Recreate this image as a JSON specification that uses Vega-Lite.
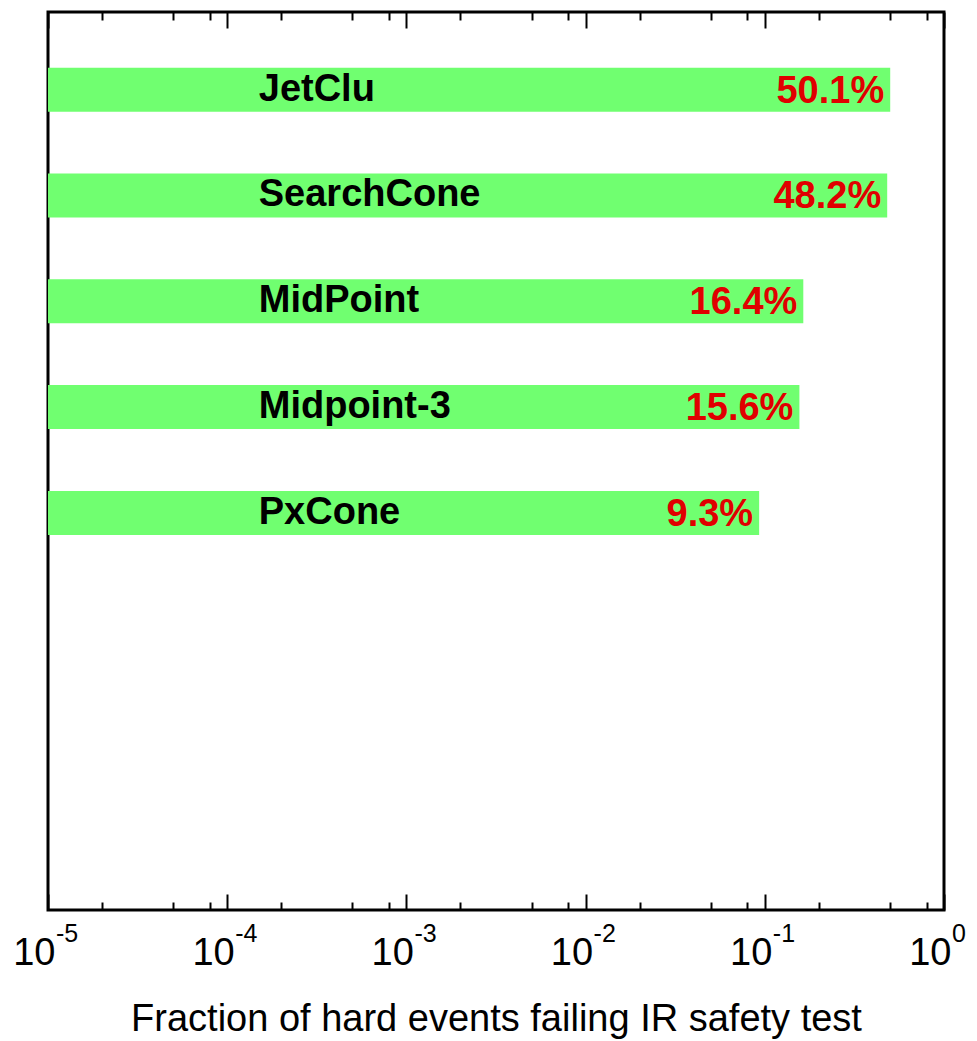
{
  "$schema": "https://vega.github.io/schema/vega-lite/v6.json",
  "width": 896,
  "height": 898,
  "autosize": {"type": "none"},
  "padding": {"left": 48, "top": 12, "right": 33, "bottom": 131},
  "background": "white",
  "config": {
    "view": {"stroke": "black", "strokeWidth": 3},
    "font": "Liberation Sans"
  },
  "datasets": {
    "algs": [
      {"name": "JetClu", "rank": 1, "fraction": 0.501, "label": "50.1%"},
      {"name": "SearchCone", "rank": 2, "fraction": 0.482, "label": "48.2%"},
      {"name": "MidPoint", "rank": 3, "fraction": 0.164, "label": "16.4%"},
      {"name": "Midpoint-3", "rank": 4, "fraction": 0.156, "label": "15.6%"},
      {"name": "PxCone", "rank": 5, "fraction": 0.093, "label": "9.3%"}
    ],
    "decades": [
      {"v": 0.00001, "exp": "-5"},
      {"v": 0.0001, "exp": "-4"},
      {"v": 0.001, "exp": "-3"},
      {"v": 0.01, "exp": "-2"},
      {"v": 0.1, "exp": "-1"},
      {"v": 1, "exp": "0"}
    ]
  },
  "resolve": {"scale": {"x": "shared", "y": "shared"}, "axis": {"x": "independent"}},
  "layer": [
    {
      "data": {"name": "algs"},
      "mark": {"type": "bar", "color": "#70ff70", "size": 44, "orient": "horizontal"},
      "encoding": {
        "x": {
          "field": "fraction",
          "type": "quantitative",
          "scale": {"type": "log", "domain": [0.00001, 1], "nice": false},
          "axis": {
            "orient": "bottom",
            "values": [0.00001, 0.00002, 0.00005, 0.00008, 0.0001, 0.0002, 0.0005, 0.0008, 0.001, 0.002, 0.005, 0.008, 0.01, 0.02, 0.05, 0.08, 0.1, 0.2, 0.5, 0.8, 1],
            "domain": false,
            "grid": false,
            "ticks": true,
            "tickColor": "black",
            "tickWidth": 2,
            "tickSize": {"condition": {"test": "abs(log(datum.value)/LN10 - round(log(datum.value)/LN10)) < 0.001", "value": -16}, "value": -8},
            "labelExpr": "abs(log(datum.value)/LN10 - round(log(datum.value)/LN10)) < 0.001 ? '10' : ''",
            "labelFont": "Liberation Sans",
            "labelFontSize": 38,
            "labelColor": "black",
            "labelAlign": "right",
            "labelBaseline": "alphabetic",
            "labelOffset": 7,
            "labelPadding": 70,
            "labelOverlap": false,
            "labelFlush": false,
            "labelBound": false,
            "title": "Fraction of hard events failing IR safety test",
            "titleFont": "Liberation Sans",
            "titleFontSize": 38,
            "titleFontWeight": "normal",
            "titleColor": "black",
            "titlePadding": 20
          }
        },
        "x2": {"datum": 0.00001},
        "y": {
          "field": "rank",
          "type": "quantitative",
          "scale": {"domain": [0.313, 8.706], "reverse": true, "nice": false, "zero": false},
          "axis": null
        }
      }
    },
    {
      "data": {"name": "algs"},
      "mark": {"type": "text", "align": "left", "baseline": "middle", "font": "Liberation Sans", "fontSize": 38, "fontWeight": "bold", "color": "black"},
      "encoding": {
        "x": {"datum": 0.00015, "type": "quantitative", "axis": null},
        "y": {"field": "rank", "type": "quantitative"},
        "text": {"field": "name"}
      }
    },
    {
      "data": {"name": "algs"},
      "mark": {"type": "text", "align": "right", "baseline": "middle", "dx": -6, "dy": 2, "font": "Liberation Sans", "fontSize": 38, "fontWeight": "bold", "color": "#e00000"},
      "encoding": {
        "x": {"field": "fraction", "type": "quantitative", "axis": null},
        "y": {"field": "rank", "type": "quantitative"},
        "text": {"field": "label"}
      }
    },
    {
      "data": {"name": "decades"},
      "mark": {"type": "text", "align": "left", "baseline": "alphabetic", "dx": 8, "dy": 37, "font": "Liberation Sans", "fontSize": 25, "color": "black", "clip": false},
      "encoding": {
        "x": {
          "field": "v",
          "type": "quantitative",
          "axis": {
            "orient": "top",
            "values": [0.00001, 0.00002, 0.00005, 0.00008, 0.0001, 0.0002, 0.0005, 0.0008, 0.001, 0.002, 0.005, 0.008, 0.01, 0.02, 0.05, 0.08, 0.1, 0.2, 0.5, 0.8, 1],
            "domain": false,
            "grid": false,
            "labels": false,
            "title": null,
            "tickColor": "black",
            "tickWidth": 2,
            "tickSize": {"condition": {"test": "abs(log(datum.value)/LN10 - round(log(datum.value)/LN10)) < 0.001", "value": -16}, "value": -8}
          }
        },
        "y": {"datum": 8.706, "type": "quantitative"},
        "text": {"field": "exp"}
      }
    }
  ]
}
